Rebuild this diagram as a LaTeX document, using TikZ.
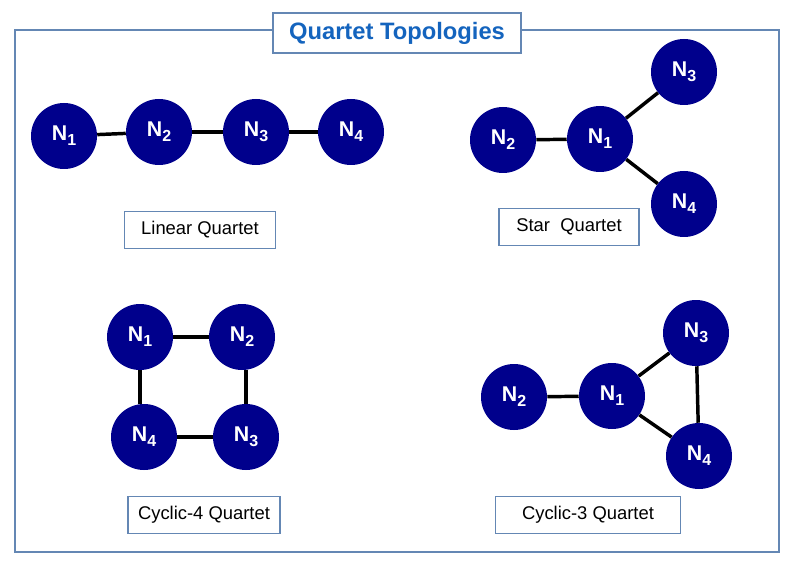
\documentclass[tikz,border=0pt]{standalone}
\usepackage{fontspec}
\setmainfont{Liberation Sans}
\usetikzlibrary{positioning}
\definecolor{navyfill}{RGB}{0,0,140}
\definecolor{frameblue}{RGB}{100,135,180}
\definecolor{titleblue}{RGB}{20,100,190}
\newcommand{\nsub}[1]{\raisebox{-0.22em}{\fontsize{12}{14}\selectfont#1}}

\begin{document}
\begin{tikzpicture}[x=0.75pt,y=-0.75pt,
  qnode/.style={circle, fill=navyfill, draw=none, minimum size=49.5pt, inner sep=0pt, text=white, font=\fontsize{16}{19}\selectfont\bfseries},
  qedge/.style={line width=2.6pt, black},
  qlabel/.style={draw=frameblue, line width=0.8pt, fill=white, font=\fontsize{13.8}{16}\selectfont, minimum height=27.5pt, inner xsep=6pt}]
\useasboundingbox (0,0) rectangle (794,567);
\draw[frameblue, line width=0.8pt] (15,30) rectangle (779,552);
\node[draw=frameblue, line width=0.8pt, fill=white, text=titleblue, font=\fontsize{17.8}{21}\selectfont\bfseries, minimum width=186pt, minimum height=30pt] (title) at (397,33) {Quartet Topologies};
% linear quartet
\node[qnode] (la) at (64,136) {N\nsub{1}};
\node[qnode] (lb) at (159,132) {N\nsub{2}};
\node[qnode] (lc) at (256,132) {N\nsub{3}};
\node[qnode] (ld) at (351,132) {N\nsub{4}};
\draw[qedge] (la) -- (lb);
\draw[qedge] (lb) -- (lc);
\draw[qedge] (lc) -- (ld);
\node[qlabel, minimum width=113pt] (linear) at (200,230) {Linear Quartet};
% star quartet
\node[qnode] (sb) at (503,140) {N\nsub{2}};
\node[qnode] (sa) at (600,139) {N\nsub{1}};
\node[qnode] (sc) at (684,72) {N\nsub{3}};
\node[qnode] (sd) at (684,204) {N\nsub{4}};
\draw[qedge] (sb) -- (sa);
\draw[qedge] (sa) -- (sc);
\draw[qedge] (sa) -- (sd);
\node[qlabel, minimum width=105pt] (star) at (569,227) {Star\ \ Quartet};
% cyclic-4 quartet
\node[qnode] (ca) at (140,337) {N\nsub{1}};
\node[qnode] (cb) at (242,337) {N\nsub{2}};
\node[qnode] (cc) at (246,437) {N\nsub{3}};
\node[qnode] (cd) at (144,437) {N\nsub{4}};
\draw[qedge] (ca) -- (cb);
\draw[qedge] (cc.north) -- (cc.north |- cb.south);
\draw[qedge] (cc) -- (cd);
\draw[qedge] (ca.south) -- (ca.south |- cd.north);
\node[qlabel, minimum width=114pt] (cyclicfour) at (204,515) {Cyclic-4 Quartet};
% cyclic-3 quartet
\node[qnode] (tb) at (514,397) {N\nsub{2}};
\node[qnode] (ta) at (612,396) {N\nsub{1}};
\node[qnode] (tc) at (696,333) {N\nsub{3}};
\node[qnode] (td) at (699,456) {N\nsub{4}};
\draw[qedge] (tb) -- (ta);
\draw[qedge] (ta) -- (tc);
\draw[qedge] (tc) -- (td);
\draw[qedge] (td) -- (ta);
\node[qlabel, minimum width=139pt] (cyclicthree) at (588,515) {Cyclic-3 Quartet};
\end{tikzpicture}
\end{document}
